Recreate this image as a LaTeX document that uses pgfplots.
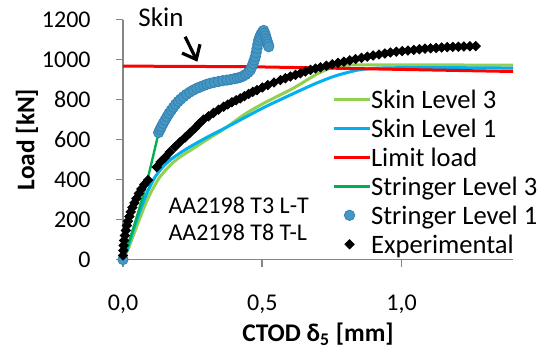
\documentclass[border=0pt]{standalone}
\usepackage{pgfplots}
\pgfplotsset{compat=1.18}
\usepackage{fontspec}
\setmainfont{Carlito}
\usetikzlibrary{arrows.meta}

\definecolor{skinthree}{RGB}{146,208,80}
\definecolor{skinone}{RGB}{0,176,240}
\definecolor{limitred}{RGB}{255,0,0}
\definecolor{strthree}{RGB}{0,176,80}
\definecolor{strfill}{RGB}{70,152,194}
\definecolor{stredge}{RGB}{52,130,182}
\definecolor{axisgray}{RGB}{134,134,134}

\begin{document}
\begin{tikzpicture}
\begin{axis}[
  name=ax,
  scale only axis, width=195pt, height=120pt,
  xmin=0, xmax=1.4, ymin=0, ymax=1200,
  axis x line*=bottom, axis y line*=left,
  axis line style={axisgray, line width=0.8pt, -},
  tick style={axisgray, line width=0.8pt},
  tick align=outside, major tick length=3.5pt,
  xtick={0,0.5,1.0}, xticklabels={{0,0},{0,5},{1,0}},
  ytick={0,200,400,600,800,1000,1200},
  yticklabels={0,200,400,600,800,1000,1200},
  every tick label/.append style={font=\fontsize{12}{14}\selectfont, inner sep=0pt},
  every x tick label/.append style={anchor=north, yshift=-14.25pt},
  every y tick label/.append style={anchor=east, xshift=-12.5pt},
  xlabel={\textbf{CTOD δ\textsubscript{5} [mm]}},
  ylabel={\textbf{Load [kN]}},
  x label style={at={(axis description cs:0.5,0)}, anchor=center, yshift=-37.5pt, font=\fontsize{12.7}{14}\selectfont},
  y label style={at={(axis description cs:-0.246,0.5)}, anchor=center, font=\fontsize{12.7}{14}\selectfont},
  clip=false,
  legend cell align=left,
  legend style={at={(0.536,0.705)}, anchor=north west, draw=none, fill=none,
    inner sep=0pt, outer sep=0pt, row sep=5.5pt, column sep=0pt,
    font=\fontsize{13.3}{15}\selectfont,
    nodes={inner sep=0pt, text height=9pt, text depth=0pt}},
  legend image code/.code={\draw[mark repeat=2, mark phase=2, #1]
    plot coordinates {(0pt,0pt) (8pt,0pt) (18pt,0pt)};},
]
% Skin, crack growth level 3
\addplot[skinthree, line width=1.5pt, smooth] coordinates {
  (0,0) (0.02,58) (0.05,168) (0.08,275) (0.10,335) (0.13,408) (0.17,472)
  (0.20,508) (0.25,553) (0.30,598) (0.36,650) (0.42,710) (0.46,746)
  (0.52,792) (0.60,848) (0.64,880) (0.70,930) (0.755,962) (0.80,972)
  (1.00,973) (1.40,972)};
\addlegendentry{Skin Level 3}
% Skin, crack growth level 1
\addplot[skinone, line width=1.5pt, smooth] coordinates {
  (0,0) (0.012,40) (0.04,160) (0.066,262) (0.09,345) (0.114,410) (0.14,458)
  (0.17,498) (0.20,528) (0.24,563) (0.30,610) (0.36,653) (0.42,697)
  (0.46,727) (0.52,770) (0.60,822) (0.64,848) (0.70,885) (0.76,917)
  (0.82,940) (0.86,951) (0.92,957) (1.00,959) (1.20,959) (1.40,957)};
\addlegendentry{Skin Level 1}
% Limit load
\addplot[limitred, line width=1.5pt] coordinates {
  (0,967) (0.45,964) (0.90,953) (1.40,940)};
\addlegendentry{Limit load}
% Stringer, crack growth level 3
\addplot[strthree, line width=1.2pt, smooth] coordinates {
  (0,0) (0.04,170) (0.085,385) (0.128,635)};
\addlegendentry{Stringer Level 3}
% Stringer, crack growth level 1
\addplot[only marks, mark=*, mark size=2.6pt,
  mark options={fill=strfill, draw=stredge, line width=0.4pt}] coordinates {
  (0,0)
  (0.128,635) (0.133,650) (0.138,664) (0.144,680) (0.151,697) (0.158,714)
  (0.165,730) (0.173,746) (0.181,761) (0.189,776) (0.198,790) (0.207,802)
  (0.217,814) (0.228,826) (0.240,837) (0.252,847) (0.265,856) (0.277,863)
  (0.290,870) (0.301,876) (0.313,881) (0.328,886) (0.343,890) (0.358,894)
  (0.373,897) (0.387,900) (0.400,904) (0.411,907) (0.421,911) (0.431,917)
  (0.440,925) (0.449,935) (0.457,947) (0.462,962) (0.467,980) (0.471,997)
  (0.475,1014) (0.478,1034) (0.481,1055) (0.484,1076) (0.487,1097)
  (0.491,1112) (0.495,1125) (0.500,1137) (0.505,1145) (0.509,1132)
  (0.512,1118) (0.515,1104) (0.518,1090) (0.521,1077) (0.523,1064)};
\addlegendentry{Stringer Level 1}
% Experimental
\addplot[only marks, mark=square*, mark size=1.65pt, black,
  mark options={rotate=45}] coordinates {
  (0.000,20) (0.001,45) (0.002,70) (0.004,95) (0.007,120) (0.010,145)
  (0.014,170) (0.018,192) (0.023,215) (0.028,238) (0.034,260) (0.041,283)
  (0.048,305) (0.057,330) (0.066,353) (0.077,375) (0.090,397) (0.121,462)
  (0.135,488) (0.151,510) (0.168,537) (0.187,564) (0.205,588) (0.223,610)
  (0.240,632) (0.258,656) (0.274,680) (0.289,700) (0.307,716) (0.325,733)
  (0.343,749) (0.361,764) (0.376,775) (0.391,786) (0.406,796) (0.421,806)
  (0.436,817) (0.451,828) (0.466,838) (0.481,847) (0.500,860) (0.520,872)
  (0.542,885) (0.565,897) (0.583,906) (0.601,915) (0.619,923) (0.637,931)
  (0.655,940) (0.673,948) (0.691,955) (0.709,961) (0.730,969) (0.751,976)
  (0.772,983) (0.793,989) (0.814,996) (0.835,1002) (0.856,1008) (0.877,1014)
  (0.898,1020) (0.919,1025) (0.940,1030) (0.960,1035) (0.981,1039)
  (1.002,1042) (1.023,1045) (1.044,1048) (1.064,1051) (1.084,1054)
  (1.104,1056) (1.124,1058) (1.144,1060) (1.164,1062) (1.184,1063)
  (1.204,1064) (1.224,1065) (1.245,1066) (1.266,1067)};
\addlegendentry{Experimental}

\node[anchor=west, inner sep=0pt, font=\fontsize{12}{14}\selectfont] at (axis cs:0.162,272) {AA2198 T3 L-T};
\node[anchor=west, inner sep=0pt, font=\fontsize{12}{14}\selectfont] at (axis cs:0.162,137) {AA2198 T8 T-L};
\node[anchor=west, inner sep=0pt, font=\fontsize{13.5}{15}\selectfont] at (axis cs:0.054,1212) {Skin};
\draw[black, line width=1.6pt, -{Straight Barb[length=6pt, width=10pt]}]
  (axis cs:0.223,1114) -- (axis cs:0.267,989);
\end{axis}
\pgfresetboundingbox
\path[use as bounding box] (-61.5pt,-44.75pt) rectangle (208.5pt,129.75pt);
\end{tikzpicture}
\end{document}
